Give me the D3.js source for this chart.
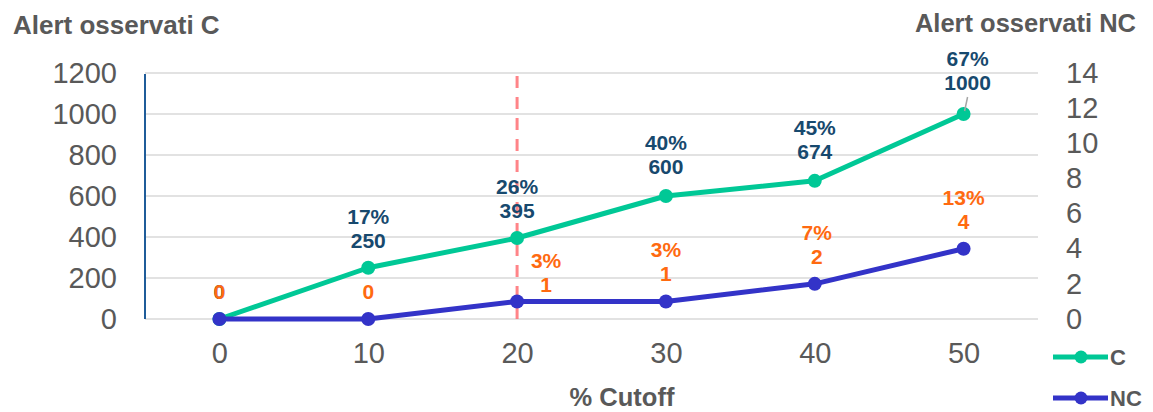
<!DOCTYPE html>
<html>
<head>
<meta charset="utf-8">
<script src="https://cdn.jsdelivr.net/npm/d3@7"></script>
<style>
  body { margin: 0; background: #fff; }
  text { font-family: "Liberation Sans", Arial, sans-serif; }
</style>
</head>
<body>
<div id="chart"></div>
<script>
var width = 1153;
var height = 412;

// data
var cutoffs = [0, 10, 20, 30, 40, 50];
var alertC = [0, 250, 395, 600, 674, 1000];
var alertNC = [0, 0, 1, 1, 2, 4];
var pctC = ["", "17%", "26%", "40%", "45%", "67%"];
var pctNC = ["", "", "3%", "3%", "7%", "13%"];
var leftTicks = [0, 200, 400, 600, 800, 1000, 1200];
var rightTicks = [0, 2, 4, 6, 8, 10, 12, 14];
var cutoffLine = 20;

var colC = "#00c896";
var colNC = "#3333c8";
var grey = "#595959";

var svg = d3.select("#chart").append("svg")
          .attr("width", width)
          .attr("height", height);

var x = d3.scalePoint().domain(cutoffs).range([145, 1038]).padding(0.5);
var yL = d3.scaleLinear().domain([0, 1200]).range([319, 73]);
var yR = d3.scaleLinear().domain([0, 14]).range([319, 73]);

// gridlines
svg.append("g").selectAll("line")
   .data(leftTicks)
   .enter().append("line")
   .attr("x1", 145).attr("x2", 1038)
   .attr("y1", function(d){ return yL(d); })
   .attr("y2", function(d){ return yL(d); })
   .attr("stroke", "#d9d9d9").attr("stroke-width", 1.5);

// left axis
var axL = svg.append("g").attr("transform", "translate(145,0)")
   .call(d3.axisLeft(yL).tickValues(leftTicks).tickFormat(d3.format("d")).tickSize(0).tickPadding(28));
axL.select(".domain").attr("stroke", "#1f5c99").attr("stroke-width", 2).attr("d", "M0,74V319");
axL.selectAll("text").attr("font-size", 29).attr("fill", grey)
   .style("font-family", "Liberation Sans, Arial, sans-serif");

// right axis
var axR = svg.append("g").attr("transform", "translate(1038,0)")
   .call(d3.axisRight(yR).tickValues(rightTicks).tickSize(0).tickPadding(28));
axR.select(".domain").remove();
axR.selectAll("text").attr("font-size", 29).attr("fill", grey)
   .style("font-family", "Liberation Sans, Arial, sans-serif");

// x axis
var axX = svg.append("g").attr("transform", "translate(0,319)")
   .call(d3.axisBottom(x).tickSize(0).tickPadding(23));
axX.select(".domain").remove();
axX.selectAll("text").attr("font-size", 29).attr("fill", grey)
   .style("font-family", "Liberation Sans, Arial, sans-serif");

// titles
svg.append("text").attr("x", 13).attr("y", 34).text("Alert osservati C")
   .attr("font-size", 26).attr("font-weight", "bold").attr("fill", grey);
svg.append("text").attr("x", 1136).attr("y", 32).attr("text-anchor", "end").text("Alert osservati NC")
   .attr("font-size", 25.5).attr("font-weight", "bold").attr("fill", grey);
svg.append("text").attr("x", 622).attr("y", 406).attr("text-anchor", "middle").text("% Cutoff")
   .attr("font-size", 25.5).attr("font-weight", "bold").attr("fill", grey);

// cutoff marker
svg.append("line")
   .attr("x1", x(cutoffLine)).attr("x2", x(cutoffLine))
   .attr("y1", 76).attr("y2", 320)
   .attr("stroke", "#ff6f73").attr("stroke-opacity", 0.85)
   .attr("stroke-width", 3).attr("stroke-dasharray", "12,9");

function drawSeries(vals, yScale, color) {
  var line = d3.line()
    .x(function(d, i){ return x(cutoffs[i]); })
    .y(function(d){ return yScale(d); });
  svg.append("path").datum(vals)
     .attr("d", line).attr("fill", "none")
     .attr("stroke", color).attr("stroke-width", 5)
     .attr("stroke-linejoin", "round");
  svg.append("g").selectAll("circle")
     .data(vals)
     .enter().append("circle")
     .attr("cx", function(d, i){ return x(cutoffs[i]); })
     .attr("cy", function(d){ return yScale(d); })
     .attr("r", 7).attr("fill", color);
}

drawSeries(alertC, yL, colC);
drawSeries(alertNC, yR, colNC);

// label nudges (layout only)
var nudgeC = [[0,0],[0,0],[0,0],[0,-2],[0,-2],[4,-4]];
var nudgeNC = [[0,0],[0,0],[29,11],[0,0],[2,0],[0,0]];

function drawLabels(vals, pcts, yScale, color, nudge) {
  var g = svg.append("g").selectAll("g")
     .data(vals)
     .enter().append("g")
     .attr("transform", function(d, i){
        return "translate(" + (x(cutoffs[i]) + nudge[i][0]) + "," + (yScale(d) - 20 + nudge[i][1]) + ")";
     });
  g.append("text").attr("text-anchor", "middle")
   .attr("font-size", 21).attr("font-weight", "bold").attr("fill", color)
   .text(function(d){ return d; });
  g.append("text").attr("text-anchor", "middle").attr("y", -24)
   .attr("font-size", 21).attr("font-weight", "bold").attr("fill", color)
   .text(function(d, i){ return pcts[i]; });
}

// leader line for the last C label
svg.append("line")
   .attr("x1", x(50) + 4).attr("y1", yL(1000) - 17)
   .attr("x2", x(50) + 1).attr("y2", yL(1000) - 3)
   .attr("stroke", "#a6a6a6").attr("stroke-width", 1.5);

drawLabels(alertC, pctC, yL, "#17496e", nudgeC);
drawLabels(alertNC, pctNC, yR, "#ff6a10", nudgeNC);

// legend
var legend = svg.append("g").selectAll("g")
   .data([{name: "C", color: colC}, {name: "NC", color: colNC}])
   .enter().append("g")
   .attr("transform", function(d, i){ return "translate(1053," + (357 + i * 41) + ")"; });
legend.append("line").attr("x1", 0).attr("x2", 55)
   .attr("stroke", function(d){ return d.color; }).attr("stroke-width", 5);
legend.append("circle").attr("cx", 28).attr("r", 6.5)
   .attr("fill", function(d){ return d.color; });
legend.append("text").attr("x", 57).attr("dy", "0.35em")
   .attr("font-size", 22).attr("font-weight", "bold").attr("fill", grey)
   .text(function(d){ return d.name; });
</script>
</body>
</html>
